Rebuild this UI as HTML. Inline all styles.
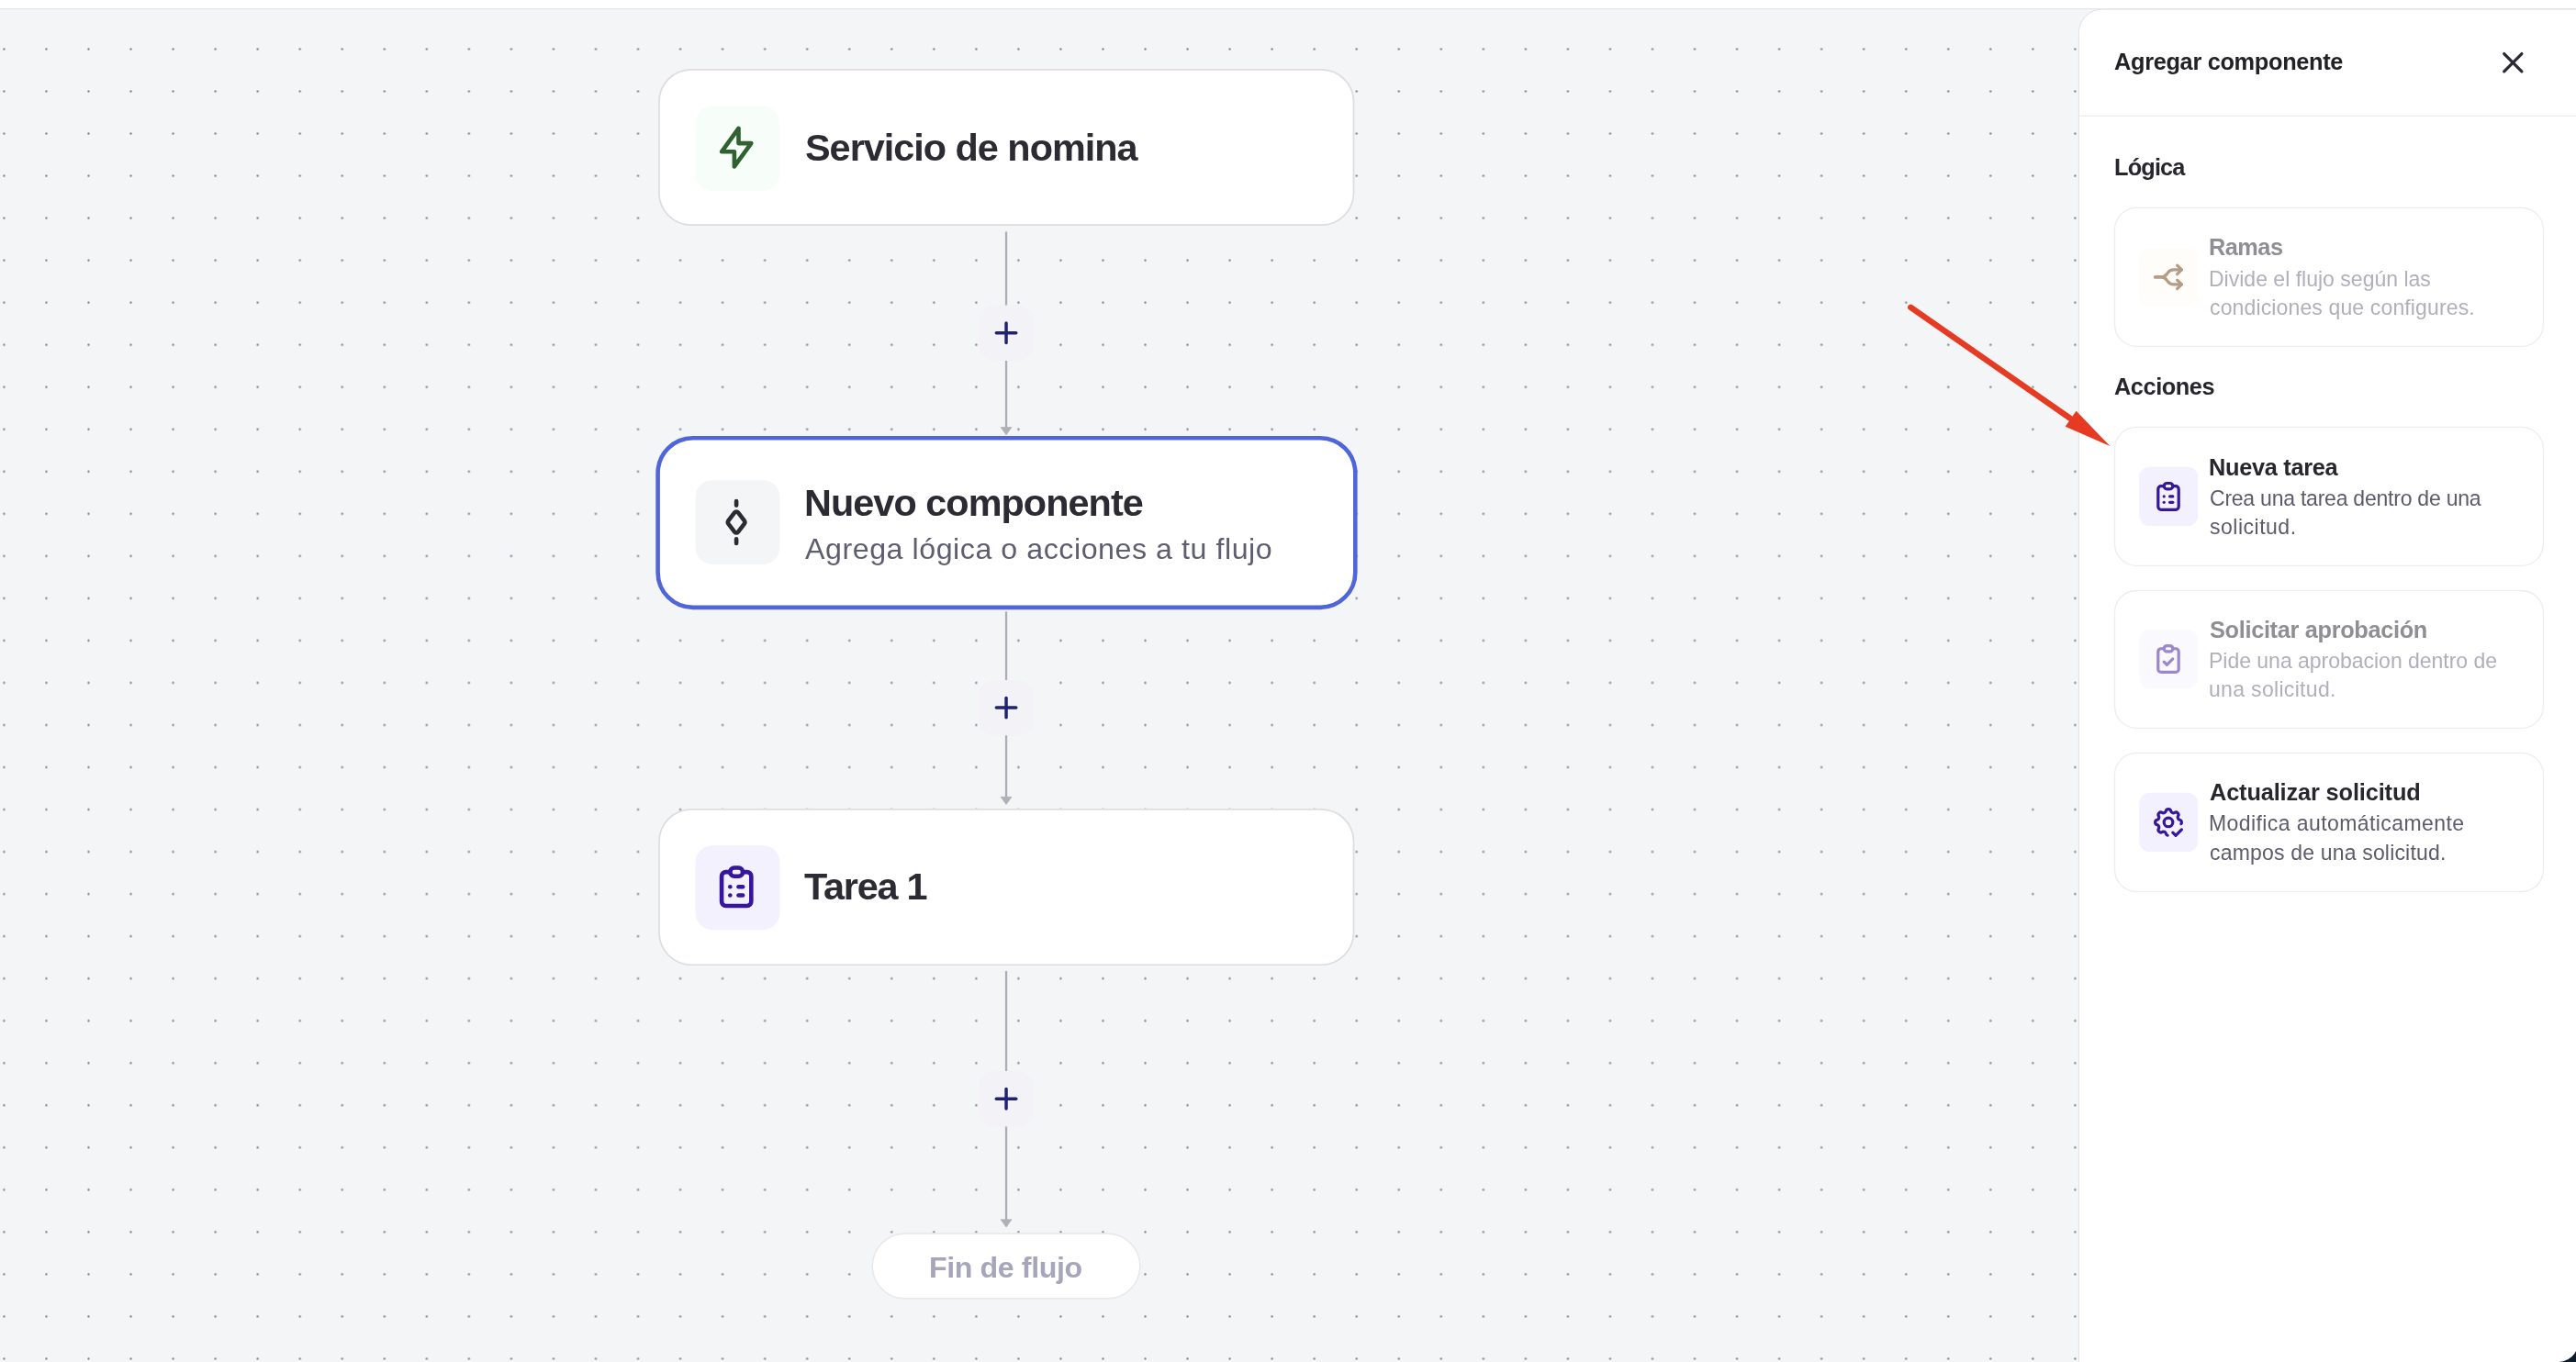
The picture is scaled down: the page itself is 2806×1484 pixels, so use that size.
<!DOCTYPE html>
<html lang="es"><head><meta charset="utf-8"><title>Agregar componente</title>
<style>
html,body{margin:0;padding:0}
body{width:2806px;height:1484px;position:relative;overflow:hidden;background:#fff;font-family:"Liberation Sans", sans-serif;}
#g{position:absolute;left:0;top:0;display:block}
.t{position:absolute;display:block;white-space:nowrap;font-family:"Liberation Sans", sans-serif;will-change:transform;}
</style></head><body>
<svg id="g" width="2806" height="1484" viewBox="0 0 2806 1484">
<defs><pattern id="dots" x="-18.590" y="30.485" width="46.04" height="46.03" patternUnits="userSpaceOnUse"><circle cx="23.02" cy="23.015" r="1.22" fill="#85858f"/></pattern></defs>
<rect x="0" y="10" width="2806" height="1474" fill="#f4f5f7"/>
<rect x="0" y="10" width="2266" height="1474" fill="url(#dots)"/>
<rect x="1094.90" y="252.50" width="2.3" height="217.10" fill="#adacba"/>
<path d="M1090.15 465.60 L1101.95 465.60 L1096.05 473.80 Z" fill="#b1b0b8" stroke="#b1b0b8" stroke-width="0.8" stroke-linejoin="round"/>
<rect x="1065.85" y="332.60" width="60.40" height="60.40" rx="17.50" fill="#f2f2f7"/>
<g transform="translate(1077.63 344.38) scale(1.5350)" fill="none" stroke="#1f2372" stroke-width="2.25" stroke-linecap="round" stroke-linejoin="round"><path d="M12 5l0 14"/><path d="M5 12l14 0"/></g>
<rect x="1094.90" y="666.40" width="2.3" height="205.90" fill="#adacba"/>
<path d="M1090.15 868.30 L1101.95 868.30 L1096.05 876.50 Z" fill="#b1b0b8" stroke="#b1b0b8" stroke-width="0.8" stroke-linejoin="round"/>
<rect x="1065.85" y="740.90" width="60.40" height="60.40" rx="17.50" fill="#f2f2f7"/>
<g transform="translate(1077.63 752.68) scale(1.5350)" fill="none" stroke="#1f2372" stroke-width="2.25" stroke-linecap="round" stroke-linejoin="round"><path d="M12 5l0 14"/><path d="M5 12l14 0"/></g>
<rect x="1094.90" y="1057.90" width="2.3" height="274.90" fill="#adacba"/>
<path d="M1090.15 1328.80 L1101.95 1328.80 L1096.05 1337.00 Z" fill="#b1b0b8" stroke="#b1b0b8" stroke-width="0.8" stroke-linejoin="round"/>
<rect x="1065.85" y="1167.10" width="60.40" height="60.40" rx="17.50" fill="#f2f2f7"/>
<g transform="translate(1077.63 1178.88) scale(1.5350)" fill="none" stroke="#1f2372" stroke-width="2.25" stroke-linecap="round" stroke-linejoin="round"><path d="M12 5l0 14"/><path d="M5 12l14 0"/></g>
<rect x="717.90" y="75.80" width="756.60" height="169.40" rx="35.15" fill="#fff" stroke="#dddde0" stroke-width="1.7"/>
<rect x="757.50" y="115.55" width="92.00" height="92.35" rx="18.40" fill="#f7fdf8"/>
<g transform="translate(774.57 133.07) scale(2.3025)" fill="none" stroke="#30622f" stroke-width="2" stroke-linecap="round" stroke-linejoin="round"><path d="M13 3l0 7l6 0l-8 11l0 -7l-6 0l8 -11"/></g>
<rect x="716.60" y="477.30" width="759.70" height="184.60" rx="38.20" fill="#fff" stroke="#4e66da" stroke-width="4.6"/>
<rect x="757.50" y="523.20" width="91.90" height="91.70" rx="18.40" fill="#f4f5f7"/>
<g transform="translate(774.47 541.37) scale(2.3025)" fill="none" stroke="#2c2b33" stroke-width="2" stroke-linecap="round" stroke-linejoin="round"><path d="M12 2v2"/><path d="M12.816 16.58c-.207 .267 -.504 .42 -.816 .42c-.312 0 -.61 -.153 -.816 -.42l-2.908 -3.748a1.39 1.39 0 0 1 0 -1.664l2.908 -3.748c.207 -.267 .504 -.42 .816 -.42c.312 0 .61 .153 .816 .42l2.908 3.748a1.39 1.39 0 0 1 0 1.664l-2.908 3.748z"/><path d="M12 20v2"/></g>
<rect x="718.00" y="881.90" width="756.50" height="169.35" rx="35.15" fill="#fff" stroke="#dddde0" stroke-width="1.7"/>
<rect x="757.50" y="921.20" width="91.90" height="92.00" rx="18.40" fill="#f3f1fe"/>
<g transform="translate(774.57 938.62) scale(2.3025)" fill="none" stroke="#36169c" stroke-width="2" stroke-linecap="round" stroke-linejoin="round"><path d="M9 5h-2a2 2 0 0 0 -2 2v12a2 2 0 0 0 2 2h10a2 2 0 0 0 2 -2v-12a2 2 0 0 0 -2 -2h-2"/><path d="M9 3m0 2a2 2 0 0 1 2 -2h2a2 2 0 0 1 2 2v0a2 2 0 0 1 -2 2h-2a2 2 0 0 1 -2 -2z"/><path d="M9 12l.01 0"/><path d="M13 12l2 0"/><path d="M9 16l.01 0"/><path d="M13 16l2 0"/></g>
<rect x="950.25" y="1344.05" width="291.60" height="70.80" rx="35.45" fill="#fff" stroke="#e7e7ec" stroke-width="1.5"/>
<path d="M2264.40 1490 L2264.40 35.6 A25.5 25.5 0 0 1 2289.90 10.1 L2820 10.1 L2820 1490 Z" fill="#fff" stroke="#e1e1e4" stroke-width="1"/>
<rect x="2264.90" y="125.6" width="600" height="1.4" fill="#ededf1"/>
<rect x="0" y="0" width="2806" height="9" fill="#fff"/><rect x="0" y="9" width="2806" height="1.1" fill="#e4e4f1"/>
<g transform="translate(2718.10 49.00) scale(1.6000)" fill="none" stroke="#2c2b33" stroke-width="2.05" stroke-linecap="round" stroke-linejoin="round"><path d="M18 6l-12 12"/><path d="M6 6l12 12"/></g>
<rect x="2303.50" y="226.40" width="467.00" height="151.00" rx="23.95" fill="#fff" stroke="#ededf1" stroke-width="1.3"/>
<rect x="2330.10" y="269.80" width="64.20" height="64.20" rx="11.50" fill="#fffdf9"/>
<g transform="translate(2342.80 282.70) scale(1.6000)" fill="none" stroke="#b59c86" stroke-width="2.0" stroke-linecap="round" stroke-linejoin="round"><path d="M21 17h-5.397a5 5 0 0 1 -4.096 -2.133l-.514 -.734a5 5 0 0 0 -4.096 -2.133h-3.897"/><path d="M21 7h-5.395a5 5 0 0 0 -4.098 2.135l-.51 .73a5 5 0 0 1 -4.097 2.135h-3.9"/><path d="M18 10l3 -3l-3 -3"/><path d="M18 20l3 -3l-3 -3"/></g>
<rect x="2303.50" y="465.40" width="467.00" height="151.00" rx="23.95" fill="#fff" stroke="#ededf1" stroke-width="1.3"/>
<rect x="2330.10" y="508.80" width="64.20" height="64.20" rx="11.50" fill="#f3f1fe"/>
<g transform="translate(2342.80 521.70) scale(1.6000)" fill="none" stroke="#34179a" stroke-width="2.0" stroke-linecap="round" stroke-linejoin="round"><path d="M9 5h-2a2 2 0 0 0 -2 2v12a2 2 0 0 0 2 2h10a2 2 0 0 0 2 -2v-12a2 2 0 0 0 -2 -2h-2"/><path d="M9 3m0 2a2 2 0 0 1 2 -2h2a2 2 0 0 1 2 2v0a2 2 0 0 1 -2 2h-2a2 2 0 0 1 -2 -2z"/><path d="M9 12l.01 0"/><path d="M13 12l2 0"/><path d="M9 16l.01 0"/><path d="M13 16l2 0"/></g>
<rect x="2303.50" y="643.50" width="467.00" height="149.90" rx="23.95" fill="#fff" stroke="#ededf1" stroke-width="1.3"/>
<rect x="2330.10" y="685.85" width="64.20" height="64.20" rx="11.50" fill="#faf9fe"/>
<g transform="translate(2342.80 698.75) scale(1.6000)" fill="none" stroke="#9b87d0" stroke-width="2.0" stroke-linecap="round" stroke-linejoin="round"><path d="M9 5h-2a2 2 0 0 0 -2 2v12a2 2 0 0 0 2 2h10a2 2 0 0 0 2 -2v-12a2 2 0 0 0 -2 -2h-2"/><path d="M9 3m0 2a2 2 0 0 1 2 -2h2a2 2 0 0 1 2 2v0a2 2 0 0 1 -2 2h-2a2 2 0 0 1 -2 -2z"/><path d="M9 14l2 2l4 -4"/></g>
<rect x="2303.50" y="820.40" width="467.00" height="151.10" rx="23.95" fill="#fff" stroke="#ededf1" stroke-width="1.3"/>
<rect x="2330.10" y="863.85" width="64.20" height="64.20" rx="11.50" fill="#f3f1fe"/>
<g transform="translate(2342.80 876.75) scale(1.6000)" fill="none" stroke="#34179a" stroke-width="2.0" stroke-linecap="round" stroke-linejoin="round"><path d="M11.445 20.913a1.665 1.665 0 0 1 -1.12 -1.23a1.724 1.724 0 0 0 -2.573 -1.066c-1.543 .94 -3.31 -.826 -2.37 -2.37a1.724 1.724 0 0 0 -1.065 -2.572c-1.756 -.426 -1.756 -2.924 0 -3.35a1.724 1.724 0 0 0 1.066 -2.573c-.94 -1.543 .826 -3.31 2.37 -2.37c1 .608 2.296 .07 2.572 -1.065c.426 -1.756 2.924 -1.756 3.35 0a1.724 1.724 0 0 0 2.573 1.066c1.543 -.94 3.31 .826 2.37 2.37a1.724 1.724 0 0 0 1.065 2.572c1.31 .318 1.643 1.79 .997 2.694"/><path d="M9 12a3 3 0 1 0 6 0a3 3 0 0 0 -6 0"/><path d="M15 19l2 2l4 -4"/></g>
<line x1="2081.3" y1="334.9" x2="2258" y2="457.9" stroke="#e63b22" stroke-width="6.4" stroke-linecap="round"/>
<path d="M2298.5 486.1 L2261.6 447.8 L2249.7 464.8 Z" fill="#e63b22"/>
<path d="M2787.5 1484 Q2801.5 1482 2806 1472 L2806 1484 Z" fill="#0e1b2d"/>
</svg>
<div class="t" style="left:876.75px;top:134.15px;font-size:41.4px;line-height:54px;font-weight:700;color:#2c2b33;letter-spacing:-1.000px">Servicio de nomina</div>
<div class="t" style="left:876.00px;top:520.55px;font-size:41.4px;line-height:54px;font-weight:700;color:#2c2b33;letter-spacing:-0.954px">Nuevo componente</div>
<div class="t" style="left:876.82px;top:576.74px;font-size:32.2px;line-height:42px;font-weight:400;color:#5f5e6f;letter-spacing:0.541px">Agrega lógica o acciones a tu flujo</div>
<div class="t" style="left:876.34px;top:939.15px;font-size:41.4px;line-height:54px;font-weight:700;color:#2c2b33;letter-spacing:-1.210px">Tarea 1</div>
<div class="t" style="left:1012.15px;top:1359.64px;font-size:32.2px;line-height:42px;font-weight:700;color:#a7a5b9;letter-spacing:-0.406px">Fin de flujo</div>
<div class="t" style="left:2302.68px;top:50.62px;font-size:25.33px;line-height:33px;font-weight:700;color:#222226;letter-spacing:-0.311px">Agregar componente</div>
<div class="t" style="left:2303.35px;top:165.92px;font-size:25.33px;line-height:33px;font-weight:700;color:#27262d;letter-spacing:-0.837px">Lógica</div>
<div class="t" style="left:2302.67px;top:404.52px;font-size:25.33px;line-height:33px;font-weight:700;color:#27262d;letter-spacing:-0.439px">Acciones</div>
<div class="t" style="left:2406.41px;top:253.22px;font-size:25.33px;line-height:33px;font-weight:700;color:#8e8e93;letter-spacing:-0.518px">Ramas</div>
<div class="t" style="left:2406.36px;top:288.72px;font-size:23.03px;line-height:30px;font-weight:400;color:#b0afba;letter-spacing:0.003px">Divide el flujo según las</div>
<div class="t" style="left:2406.69px;top:319.82px;font-size:23.03px;line-height:30px;font-weight:400;color:#b0afba;letter-spacing:0.130px">condiciones que configures.</div>
<div class="t" style="left:2406.37px;top:492.67px;font-size:25.33px;line-height:33px;font-weight:700;color:#27262d;letter-spacing:-0.292px">Nueva tarea</div>
<div class="t" style="left:2406.74px;top:527.92px;font-size:23.03px;line-height:30px;font-weight:400;color:#5c5b6c;letter-spacing:-0.238px">Crea una tarea dentro de una</div>
<div class="t" style="left:2407.00px;top:558.92px;font-size:23.03px;line-height:30px;font-weight:400;color:#5c5b6c;letter-spacing:0.503px">solicitud.</div>
<div class="t" style="left:2406.80px;top:670.02px;font-size:25.33px;line-height:33px;font-weight:700;color:#8e8e93;letter-spacing:-0.324px">Solicitar aprobación</div>
<div class="t" style="left:2406.36px;top:704.82px;font-size:23.03px;line-height:30px;font-weight:400;color:#b0afba;letter-spacing:-0.025px">Pide una aprobacion dentro de</div>
<div class="t" style="left:2406.38px;top:736.22px;font-size:23.03px;line-height:30px;font-weight:400;color:#b0afba;letter-spacing:0.316px">una solicitud.</div>
<div class="t" style="left:2406.61px;top:847.02px;font-size:25.33px;line-height:33px;font-weight:700;color:#27262d;letter-spacing:-0.133px">Actualizar solicitud</div>
<div class="t" style="left:2406.31px;top:881.82px;font-size:23.03px;line-height:30px;font-weight:400;color:#5c5b6c;letter-spacing:0.406px">Modifica automáticamente</div>
<div class="t" style="left:2406.67px;top:913.82px;font-size:23.03px;line-height:30px;font-weight:400;color:#5c5b6c;letter-spacing:0.173px">campos de una solicitud.</div>
</body></html>
